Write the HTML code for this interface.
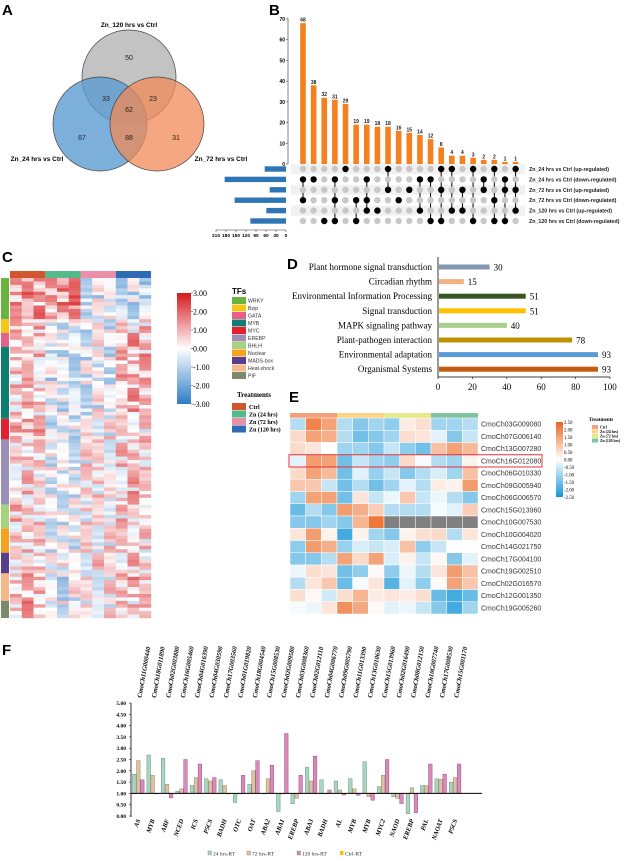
<!DOCTYPE html>
<html><head><meta charset="utf-8"><style>
html,body{margin:0;padding:0;background:#fff;}
svg{display:block;}
.sans{font-family:"Liberation Sans",Arial,sans-serif;}
.serif{font-family:"Liberation Serif","Times New Roman",serif;}
</style></head><body>
<svg id="fig" width="632" height="858" viewBox="0 0 632 858" xmlns="http://www.w3.org/2000/svg">
<rect width="632" height="858" fill="#fff"/>
<g class="sans" font-weight="bold" font-size="15" fill="#000">
<text x="2" y="15">A</text>
<text x="269" y="15">B</text>
<text x="2" y="262">C</text>
<text x="287" y="269">D</text>
<text x="289" y="402">E</text>
<text x="2" y="655">F</text>
</g>
<!-- Venn -->
<g id="venn" class="sans">
<circle cx="129" cy="77" r="47" fill="#bdbdbd" fill-opacity="0.9" stroke="#444" stroke-width="0.7"/>
<circle cx="100" cy="124" r="47" fill="#5b9bd0" fill-opacity="0.8" stroke="#444" stroke-width="0.7"/>
<circle cx="157" cy="124" r="47" fill="#f08a55" fill-opacity="0.75" stroke="#444" stroke-width="0.7"/>
<g font-size="6.5" font-weight="bold" text-anchor="middle">
<text x="129" y="27">Zn_120 hrs vs Ctrl</text>
<text x="37" y="161">Zn_24 hrs vs Ctrl</text>
<text x="221" y="161">Zn_72 hrs vs Ctrl</text>
</g>
<g font-size="7" text-anchor="middle" fill="#222">
<text x="129" y="60">50</text>
<text x="106" y="101">33</text>
<text x="153" y="101">23</text>
<text x="129" y="112">62</text>
<text x="82" y="140">67</text>
<text x="129" y="140">88</text>
<text x="176" y="140">31</text>
</g>
</g>
<g id="upset" class="sans"></g>
<g id="heatC"></g>
<g id="barD" class="serif"></g>
<g id="heatE"></g>
<g id="barF" class="serif"></g>
</svg>
<script>
const NS="http://www.w3.org/2000/svg";
function mk(parent,tag,attrs,text){const e=document.createElementNS(NS,tag);for(const k in attrs)e.setAttribute(k,attrs[k]);if(text!==undefined)e.textContent=text;parent.appendChild(e);return e;}

// ===== Panel B: UpSet =====
const upsetCounts=[68,38,32,31,29,19,19,18,18,16,15,14,12,8,4,4,3,2,2,1,1];
const upsetSets=["Zn_24 hrs vs Ctrl (up-regulated)","Zn_24 hrs vs Ctrl (down-regulated)","Zn_72 hrs vs Ctrl (up-regulated)","Zn_72 hrs vs Ctrl (down-regulated)","Zn_120 hrs vs Ctrl (up-regulated)","Zn_120 hrs vs Ctrl (down-regulated)"];
const upsetSetSizes=[64,184,49,154,59,107];
const upsetMembers=[[1,3],[1],[5],[1,3,5],[0],[3,5],[1,3,4],[4],[0,2],[3],[2],[1,4],[1,5],[0,2,5],[0,4],[2,4],[0,5],[1,2],[0,3,5],[1,2,5],[0,2,4]];
const upsetTicks=[0,10,20,30,40,50,60,70];
const setTicks=[210,180,150,120,90,60,30,0];
(function(){
const g=document.getElementById('upset');
const yB=v=>164-v*145/70, xB=i=>303+i*10.63, yR=r=>169+r*10.4, xL=v=>286-v/3;
mk(g,'line',{x1:288,y1:18,x2:288,y2:164,stroke:'#333','stroke-width':0.6});
upsetTicks.forEach(t=>{const tk=mk(g,'text',{x:285,y:yB(t)+2,'font-size':5,'text-anchor':'end','font-weight':'bold'},t);


mk(g,'line',{x1:286,y1:yB(t),x2:288,y2:yB(t),stroke:'#333','stroke-width':0.5});});
[0,2,4].forEach(r=>{mk(g,'rect',{x:291,y:yR(r)-5,width:234,height:10,fill:'#f1f1f1'});});
upsetCounts.forEach((v,i)=>{
const b=mk(g,'rect',{x:xB(i)-2.8,y:yB(v),width:5.6,height:164-yB(v),fill:'#f5801f'});


const l=mk(g,'text',{x:xB(i),y:yB(v)-1.5,'font-size':5,'text-anchor':'middle','font-weight':'bold',fill:'#222'},v);


const m=upsetMembers[i];
if(m.length>1)mk(g,'line',{x1:xB(i),y1:yR(Math.min(...m)),x2:xB(i),y2:yR(Math.max(...m)),stroke:'#000','stroke-width':1});
for(let r=0;r<6;r++){const d=mk(g,'circle',{cx:xB(i),cy:yR(r),r:3.2,fill:m.includes(r)?'#000':'#c8c8c8'});

}
});
upsetSets.forEach((s,r)=>{
const t=mk(g,'text',{x:529,y:yR(r)+2,'font-size':5.3,'font-weight':'bold',fill:'#222'},s);


const b=mk(g,'rect',{x:xL(upsetSetSizes[r]),y:yR(r)-2.7,width:upsetSetSizes[r]/3,height:5.4,fill:'#2e75b6'});


});
mk(g,'line',{x1:216,y1:230,x2:286,y2:230,stroke:'#333','stroke-width':0.5});
setTicks.forEach(t=>{mk(g,'line',{x1:xL(t),y1:230,x2:xL(t),y2:232,stroke:'#333','stroke-width':0.5});
const tk=mk(g,'text',{x:xL(t),y:237,'font-size':4.8,'text-anchor':'middle','font-weight':'bold'},t);

});
})();

// ===== Panel C: TF heatmap =====
const tfNames=["WRKY","Bzip","GATA","MYB","MYC","EREBP","BHLH","Nuclear","MADS-box","Heat-shock","PIF"];
const tfColors=["#6ab33f","#f7c51a","#e8608a","#0f7d70","#e5202e","#9a90b5","#a9d27f","#f5a21e","#5a3d8c","#f6b98a","#7b8a6b"];
const tfRowCounts=[12,4,4,21,6,19,7,7,6,8,5];
const tfProfiles=[[1.2,1.4,1.2,0.8,1.3,1.6,-0.4,-0.5,-0.3,-0.8,-0.6,-0.9],[0.8,0.6,0.7,-0.2,-0.4,-0.3,-0.3,-0.2,-0.4,0.3,0.2,0.4],[0.8,0.7,0.9,-0.5,-0.4,-0.6,-0.3,-0.2,-0.3,0.8,1.0,0.6],[0.5,0.7,0.6,-0.6,-0.5,-0.7,-0.4,-0.3,-0.5,0.8,0.9,0.7],[1.0,1.2,0.9,-0.5,-0.6,-0.4,0.0,0.1,-0.1,0.3,0.4,0.2],[0.3,0.5,0.2,-0.3,-0.4,-0.2,0.0,0.2,-0.1,0.5,0.6,0.4],[0.6,0.4,0.5,-0.4,-0.2,-0.5,0.1,0.0,0.2,0.3,0.1,0.4],[0.5,0.6,0.4,-0.2,-0.5,-0.3,0.2,0.1,0.0,0.4,0.5,0.3],[0.4,0.2,0.5,-0.3,-0.1,-0.4,0.1,0.3,0.0,0.2,0.6,0.3],[0.7,0.5,0.6,-0.4,-0.6,-0.2,0.1,-0.1,0.2,0.6,0.9,0.5],[0.6,0.8,0.5,-0.3,-0.2,-0.4,0.0,0.3,0.1,0.5,0.4,0.6]];
const tfRowNoise=[[0.4,-0.8,0.6,1.0,-0.5,0.3,-0.9,0.6,0.2,-0.7,0.8,-0.3],[-0.9,0.5,0.3,-0.6,0.9,-0.4,0.5,-0.8,0.7,0.4,-0.6,0.9],[1.1,0.2,-0.7,0.4,-1.0,0.8,0.3,0.5,-0.6,1.0,0.2,-0.8],[-0.3,1.0,0.8,-0.9,0.2,-0.6,-0.4,1.0,0.4,-0.9,1.2,0.5],[0.7,-0.4,-1.0,0.6,0.5,1.0,0.8,-0.5,-0.9,0.3,-0.4,0.7],[-1.1,0.6,0.4,0.2,-0.8,-0.9,0.6,0.2,1.0,-0.5,0.9,-1.0],[0.2,1.3,-0.5,-0.6,1.1,0.3,-1.0,-0.6,0.3,0.9,-1.1,0.4],[0.9,-1.0,1.0,0.8,-0.3,-1.1,0.2,0.9,-0.8,-1.2,0.5,1.1]];
const heatTreatNames=["Ctrl","Zn (24 hrs)","Zn (72 hrs)","Zn (120 hrs)"];
const heatTreatColors=["#d1552e","#56b98a","#eb8fa9","#2e6bb5"];
const cTicks=[3,2,1,0,-1,-2,-3];
(function(){
const g=document.getElementById('heatC');
const x0=10,cw=141/12,top=278,bottom=618;
const total=tfRowCounts.reduce((a,b)=>a+b,0), rh=(bottom-top)/total;
function col(v){v=Math.max(-3,Math.min(3,v));const t=Math.abs(v)/3;
const c=v>=0?[215,25,28]:[44,123,200];
return `rgb(${Math.round(255+(c[0]-255)*t)},${Math.round(255+(c[1]-255)*t)},${Math.round(255+(c[2]-255)*t)})`;}
heatTreatColors.forEach((c,k)=>{const r=mk(g,'rect',{x:x0+k*3*cw,y:271,width:3*cw,height:7,fill:c});

});
let row=0;
tfRowCounts.forEach((n,gi)=>{
const s=mk(g,'rect',{x:1,y:top+row*rh,width:8,height:n*rh,fill:tfColors[gi]});


for(let i=0;i<n;i++){const nz=tfRowNoise[(row+i)%tfRowNoise.length];
for(let c=0;c<12;c++){const r=mk(g,'rect',{x:x0+c*cw,y:top+(row+i)*rh,width:cw+0.2,height:rh+0.2,fill:col(tfProfiles[gi][c]+nz[(c+i)%12])});

}}
row+=n;});
const defs=mk(g,'defs',{});const lg=mk(defs,'linearGradient',{id:'gC',x1:0,y1:0,x2:0,y2:1});
mk(lg,'stop',{offset:'0','stop-color':'#d7191c'});mk(lg,'stop',{offset:'0.5','stop-color':'#ffffff'});mk(lg,'stop',{offset:'1','stop-color':'#2c7bc8'});
const cb=mk(g,'rect',{x:177,y:293,width:14,height:111,fill:'url(#gC)'});


cTicks.forEach(t=>{const y=293+(3-t)/6*111;mk(g,'line',{x1:191,y1:y,x2:193,y2:y,stroke:'#333','stroke-width':0.5});
const l=mk(g,'text',{x:193,y:y+3,'font-size':8,'font-family':'Liberation Serif,serif'},t.toFixed(2));

});
mk(g,'text',{x:232,y:294,'font-size':8,'font-weight':'bold','font-family':'Liberation Sans,sans-serif'},'TFs');
tfNames.forEach((n,i)=>{mk(g,'rect',{x:232,y:297+i*7.5,width:14,height:7,fill:tfColors[i]});
const t=mk(g,'text',{x:248,y:302.5+i*7.5,'font-size':5.2,fill:'#333','font-family':'Liberation Sans,sans-serif'},n);

});
mk(g,'text',{x:237,y:397,'font-size':7,'font-weight':'bold','font-family':'Liberation Serif,serif'},'Treatments');
heatTreatNames.forEach((n,i)=>{mk(g,'rect',{x:232,y:403+i*7.5,width:14,height:7,fill:heatTreatColors[i]});
const t=mk(g,'text',{x:249,y:409+i*7.5,'font-size':6,'font-weight':'bold','font-family':'Liberation Serif,serif'},n);

});
})();

// ===== Panel D =====
const dCats=["Plant hormone signal transduction","Circadian rhythm","Environmental Information Processing","Signal transduction","MAPK signaling pathway","Plant-pathogen interaction","Environmental adaptation","Organismal Systems"];
const dVals=[30,15,51,51,40,78,93,93];
const dColors=["#8497b0","#f4b183","#375623","#ffc000","#a9d18e","#bf9000","#5b9bd5","#c55a11"];
const dTicks=[0,20,40,60,80,100];
(function(){
const g=document.getElementById('barD');
const x=v=>438+v*1.72, y=i=>267+i*14.6;
mk(g,'line',{x1:438,y1:257,x2:438,y2:377,stroke:'#000','stroke-width':0.8});
mk(g,'line',{x1:438,y1:377,x2:610,y2:377,stroke:'#000','stroke-width':0.8});
dTicks.forEach(t=>{mk(g,'line',{x1:x(t),y1:377,x2:x(t),y2:379,stroke:'#000','stroke-width':0.6});
const l=mk(g,'text',{x:x(t),y:390,'font-size':9,'text-anchor':'middle'},t);

});
dCats.forEach((c,i)=>{
const t=mk(g,'text',{x:432,y:y(i)+3,'font-size':9,'text-anchor':'end'},c);


const b=mk(g,'rect',{x:439,y:y(i)-2.5,width:x(dVals[i])-439,height:5,fill:dColors[i]});


const v=mk(g,'text',{x:x(dVals[i])+4,y:y(i)+3.5,'font-size':9},dVals[i]);

});
})();

// ===== Panel E =====
const eGenes=["CmoCh03G009080","CmoCh07G006140","CmoCh13G007280","CmoCh16G012080","CmoCh06G010330","CmoCh09G005940","CmoCh06G006570","CmoCh15G013960","CmoCh10G007530","CmoCh10G004020","CmoCh14G021750","CmoCh17G004100","CmoCh19G002510","CmoCh02G016570","CmoCh12G001350","CmoCh19G005260"];
const eValues=[
[-0.8,2,1.5,-0.8,-1.3,-1,-1.2,0.3,0.5,-1,-1,-0.8],
[0.6,1.5,1.3,-0.8,-1.5,-1.3,-1,0.5,0.4,-0.3,-1.3,-0.6],
[0.6,0.4,0,-1,-1,-1.3,-0.6,-1.2,-1.5,1,1.5,1.1],
[-0.3,1.6,1.5,-1.5,-0.6,-1,-1.2,0.6,-0.1,-0.8,-1,0.2],
[0.6,1.5,1.1,-1.5,-0.3,-1.1,-0.6,-1.3,-0.8,-0.4,-1,1],
[0.9,0.9,-0.6,-1.5,-0.8,-1.5,-1,-0.3,-0.8,0.3,0.2,1.6],
[-1,1.5,1.5,-1.5,0.4,-0.6,-0.2,0.9,-0.6,-0.2,-0.8,-1.3],
[-1.6,-0.8,-1.3,1.6,1.3,0.8,-0.8,-0.8,-0.8,-0.1,-0.3,0.8],
[-1.3,-1.3,-1,-1.3,1.2,2.2,null,null,null,null,null,null],
[0.4,1.6,0.2,-2,0.2,-1,-1.3,0.2,0.5,0.6,-0.8,0.4],
[-1.2,1.6,1.3,-1.1,-0.4,-0.6,-0.4,1,-1.2,-0.6,0,0],
[-1.3,-1.3,-0.8,1.5,0.6,1.5,-0.4,0.2,-0.6,0.1,-1.3,-0.3],
[-0.2,0.5,0.4,-1.5,-1.2,0.1,-1.2,-0.2,-0.8,0.4,1.6,1],
[-0.8,0.4,0.9,-1.6,-0.1,0.4,-1.8,-0.3,-1.2,0.1,1.5,0.9],
[0.5,0.1,-0.5,0.5,1.2,0.3,0.4,0.3,0.5,-1.6,-2,-1.6],
[-0.1,-0.2,0.4,1.8,1.4,0.1,-0.3,-0.2,-0.6,-1.3,-2,-1]];
const eTreatNames=["Ctrl","Zn (24 hrs)","Zn (72 hrs)","Zn (120 hrs)"];
const eTreatColors=["#f4a07a","#fdd48a","#e4e98c","#82c3a2"];
const eTicks=[2.5,2,1.5,1,0.5,0,-0.5,-1,-1.5,-2,-2.5];
(function(){
const g=document.getElementById('heatE');
const x0=290,cw=188/12,top=418,rh=12.25;
function col(v){if(v===null)return '#808080';v=Math.max(-2.5,Math.min(2.5,v));const t=Math.abs(v)/2.5;
const c=v>=0?[236,100,30]:[20,150,215];
return `rgb(${Math.round(255+(c[0]-255)*t)},${Math.round(255+(c[1]-255)*t)},${Math.round(255+(c[2]-255)*t)})`;}
eTreatColors.forEach((c,k)=>{const r=mk(g,'rect',{x:x0+k*3*cw,y:413,width:3*cw,height:5,fill:c});

});
eValues.forEach((rowv,r)=>{rowv.forEach((v,c)=>{
const cell=mk(g,'rect',{x:x0+c*cw,y:top+r*rh,width:cw,height:rh,fill:col(v),stroke:'#fff','stroke-width':0.5});

});
const t=mk(g,'text',{x:481,y:top+r*rh+8.5,'font-size':7,fill:'#333','font-family':'Liberation Sans,sans-serif'},eGenes[r]);

});
const hl=mk(g,'rect',{x:289,y:top+3*rh,width:253,height:rh,fill:'none',stroke:'#e8303a','stroke-width':1});


const defs=mk(g,'defs',{});const lg=mk(defs,'linearGradient',{id:'gE',x1:0,y1:0,x2:0,y2:1});
mk(lg,'stop',{offset:'0','stop-color':'#ec641e'});mk(lg,'stop',{offset:'0.5','stop-color':'#ffffff'});mk(lg,'stop',{offset:'1','stop-color':'#1496d7'});
const cb=mk(g,'rect',{x:556,y:422,width:7,height:75,fill:'url(#gE)'});


eTicks.forEach(t=>{const y=422+(2.5-t)/5*75;
const l=mk(g,'text',{x:564,y:y+1.8,'font-size':4.8,'font-family':'Liberation Serif,serif'},t.toFixed(2));

});
mk(g,'text',{x:589,y:421,'font-size':5,'font-weight':'bold','font-family':'Liberation Serif,serif'},'Treatments');
eTreatNames.forEach((n,i)=>{mk(g,'rect',{x:592,y:425+i*4.5,width:6,height:4,fill:eTreatColors[i]});
const t=mk(g,'text',{x:600,y:428.5+i*4.5,'font-size':3.8,'font-weight':'bold','font-family':'Liberation Serif,serif'},n);

});
})();

// ===== Panel F =====
const fGenes=["CmoCh11G000440","CmoCh18G011890","CmoCh02G003880","CmoCh16G005460","CmoCh04G016390","CmoCh04G030590","CmoCh17G003560","CmoCh01G019820","CmoCh18G004540","CmoCh15G008530","CmoCh02G009580","CmoCh03G008360","CmoCh02G012110","CmoCh04G006770","CmoCh09G005790","CmoCh11G013390","CmoCh13G010630","CmoCh15G013960","CmoCh02G016490","CmoCh08G012150","CmoCh10G007740","CmoCh17G008530","CmoCh15G001170"];
const fCats=["AS","MYB","ABF","NCED","ICS","P5CS","BADH","OTC","OAT","ABA2","ABA1","EREBP","ABA3","BADH","AL","MYB","MYB","MYC2","NAOD","EREBP","PAL","NAOAT","P5CS"];
const f24=[1.85,2.7,2.55,1.1,1.35,1.65,1.6,0.6,1.4,1.0,0.2,0.55,2.15,1.6,1.55,1.65,2.4,1.3,0.85,0.1,1.35,1.65,1.5];
const f72=[2.45,1.8,1.4,1.2,1.7,1.55,1.35,1.0,2.0,1.65,1.0,0.78,1.55,0.98,1.15,1.2,0.85,1.8,0.78,1.25,1.35,1.62,1.7];
const f120=[1.6,0.98,0.8,2.5,2.3,1.7,1.0,1.8,2.45,2.25,3.65,1.8,2.65,1.15,0.93,0.92,0.7,2.5,0.55,0.15,2.3,1.85,2.3];
const fTicks=[5,4.5,4,3.5,3,2.5,2,1.5,1,0.5,0];
const fSeries=["24 hrs-RT","72 hrs-RT","120 hrs-RT","Ctrl-RT"];
(function(){
const g=document.getElementById('barF');
const y=v=>816-v*22.6, x=i=>138.5+i*14.4;
mk(g,'line',{x1:131,y1:703,x2:131,y2:817,stroke:'#000','stroke-width':0.8});
fTicks.forEach(t=>{mk(g,'line',{x1:129,y1:y(t),x2:131,y2:y(t),stroke:'#000','stroke-width':0.5});
const l=mk(g,'text',{x:126,y:y(t)+2,'font-size':5.5,'font-weight':'bold','text-anchor':'end'},t.toFixed(2));

});
const series=[[f24,'#a9d6c1','#5a7a6a'],[f72,'#dcc2a2','#8a7050'],[f120,'#d98bb9','#8a3a70']];
fCats.forEach((c,i)=>{
series.forEach((s,k)=>{const v=s[0][i],y0=y(1),y1=y(v);
const b=mk(g,'rect',{x:x(i)-6+k*4,y:Math.min(y0,y1),width:3.6,height:Math.max(0.5,Math.abs(y1-y0)),fill:s[1],stroke:s[2],'stroke-width':0.4});

});
const gl=mk(g,'text',{x:0,y:0,'font-size':6.6,'font-style':'italic','font-weight':'bold',transform:`translate(${x(i)+3},698) rotate(-80)`},fGenes[i]);


const cl=mk(g,'text',{x:0,y:0,'font-size':6.5,'font-style':'italic','font-weight':'bold','text-anchor':'end',transform:`translate(${x(i)+2},820) rotate(-70)`},c);


});
mk(g,'line',{x1:131,y1:y(1),x2:482,y2:y(1),stroke:'#000','stroke-width':1});
const lx=[208,247,297,340],lc=['#a9d6c1','#dcc2a2','#d98bb9','#ffc000'];
fSeries.forEach((s,i)=>{mk(g,'rect',{x:lx[i],y:851,width:3.5,height:4,fill:lc[i],stroke:i<3?'#666':'none','stroke-width':0.3});
const t=mk(g,'text',{x:lx[i]+5,y:855.5,'font-size':5.5,fill:'#333'},s);

});
})();
</script>
</body></html>
